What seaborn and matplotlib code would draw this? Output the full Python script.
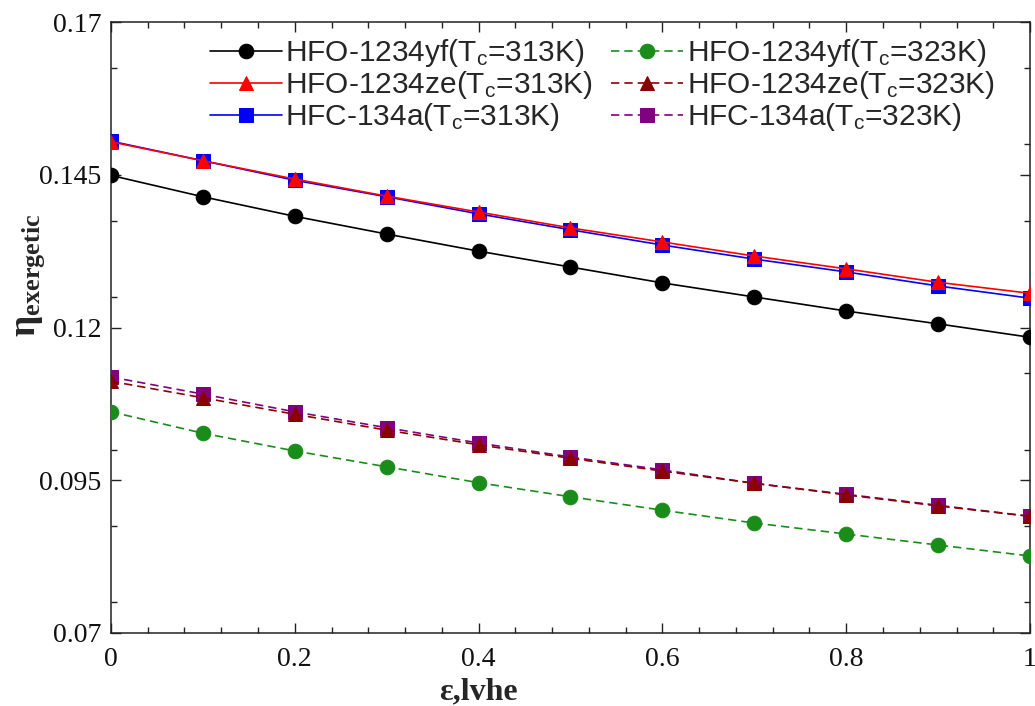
import numpy as np
import pandas as pd
import matplotlib
matplotlib.use("Agg")
import matplotlib.pyplot as plt
from matplotlib.ticker import MultipleLocator, FuncFormatter
import seaborn as sns

# ---- data ----
eps = [0.0, 0.1, 0.2, 0.3, 0.4, 0.5, 0.6, 0.7, 0.8, 0.9, 1.0]
yf_313 = [0.1449, 0.1414, 0.1382, 0.1353, 0.1325, 0.1299, 0.1273, 0.1250, 0.1227, 0.1206, 0.1184]
ze_313 = [0.1504, 0.1473, 0.1443, 0.1415, 0.1389, 0.1363, 0.1340, 0.1317, 0.1296, 0.1274, 0.1256]
r134a_313 = [0.1505, 0.1473, 0.1441, 0.1414, 0.1386, 0.1360, 0.1335, 0.1312, 0.1291, 0.1268, 0.1248]
yf_323 = [0.1062, 0.1027, 0.0998, 0.0972, 0.0946, 0.0923, 0.0901, 0.0880, 0.0862, 0.0844, 0.0826]
ze_323 = [0.1112, 0.1085, 0.1058, 0.1032, 0.1008, 0.0986, 0.0965, 0.0945, 0.0926, 0.0908, 0.0891]
r134a_323 = [0.1119, 0.1091, 0.1062, 0.1036, 0.1011, 0.0988, 0.0967, 0.0945, 0.0927, 0.0909, 0.0891]

labels = [
    r"HFO-1234yf(T$_\mathrm{c}$=313K)",
    r"HFO-1234ze(T$_\mathrm{c}$=313K)",
    r"HFC-134a(T$_\mathrm{c}$=313K)",
    r"HFO-1234yf(T$_\mathrm{c}$=323K)",
    r"HFO-1234ze(T$_\mathrm{c}$=323K)",
    r"HFC-134a(T$_\mathrm{c}$=323K)",
]
y_ticks = [0.07, 0.095, 0.12, 0.145, 0.17]
x_ticks = [0, 0.2, 0.4, 0.6, 0.8, 1.0]

series = [yf_313, ze_313, r134a_313, yf_323, ze_323, r134a_323]
colors = ["black", "#ff0000", "#0000ff", "#1a8c1a", "#8b0000", "#800080"]
markers = ["o", "^", "s", "o", "^", "s"]
styles = ["-", "-", "-", (0, (5, 3)), (0, (5, 3)), (0, (5, 3))]
zorders = [3, 4, 3, 3, 4, 3]

sns.set_theme(style="ticks")
plt.rcParams["font.family"] = ["Liberation Serif", "DejaVu Serif"]
plt.rcParams["mathtext.fontset"] = "custom"
plt.rcParams["mathtext.rm"] = "Liberation Sans"
plt.rcParams["mathtext.bf"] = "Liberation Serif:bold"
plt.rcParams["mathtext.it"] = "Liberation Serif:italic"

fig = plt.figure(figsize=(10.35, 7.06), dpi=100)
ax = fig.add_axes([0.1072, 0.1034, 0.888, 0.8654])

handles = []
for vals, c, m, ls, lab, z in zip(series, colors, markers, styles, labels, zorders):
    sns.lineplot(x=eps, y=vals, ax=ax, color=c, marker=m, linestyle=ls,
                 markersize=10.5, markeredgecolor=c, markerfacecolor=c,
                 linewidth=1.2, label=lab, zorder=z)
    handles.append(ax.lines[-1])

ax.set_xlim(0, 1)
ax.set_ylim(0.07, 0.17)
ax.set_xticks(x_ticks)
ax.set_yticks(y_ticks)
ax.xaxis.set_minor_locator(MultipleLocator(0.04))
ax.yaxis.set_minor_locator(MultipleLocator(0.0125))
fmt = FuncFormatter(lambda v, p: "%g" % round(v, 4))
ax.xaxis.set_major_formatter(fmt)
ax.yaxis.set_major_formatter(fmt)
ax.tick_params(which="both", direction="in", top=True, right=True,
               labelsize=20, width=1.0, colors="#222222", labelcolor="#111111")
ax.tick_params(which="major", length=7)
ax.tick_params(axis="x", which="major", pad=10)
ax.tick_params(axis="y", which="major", pad=7)
ax.tick_params(which="minor", length=4)
for s in ax.spines.values():
    s.set_linewidth(1.1)
    s.set_color("#222222")

ax.set_xlabel("ε,lvhe", fontsize=23, fontweight="bold")
ax.xaxis.set_label_coords(0.40, -0.072)
ax.set_ylabel(r"$\mathbf{\eta_{exergetic}}$", fontsize=27)
ax.yaxis.set_label_coords(-0.07, 0.585)

leg = ax.legend(handles=handles, labels=labels, ncol=2, loc="upper left",
                bbox_to_anchor=(0.108, 0.975), frameon=False,
                prop={"family": "Liberation Sans", "size": 21.5},
                handlelength=2.4, handletextpad=0.12, labelspacing=0.0,
                columnspacing=0.6, borderpad=0, borderaxespad=0)

fig.savefig("out.png", dpi=100)
